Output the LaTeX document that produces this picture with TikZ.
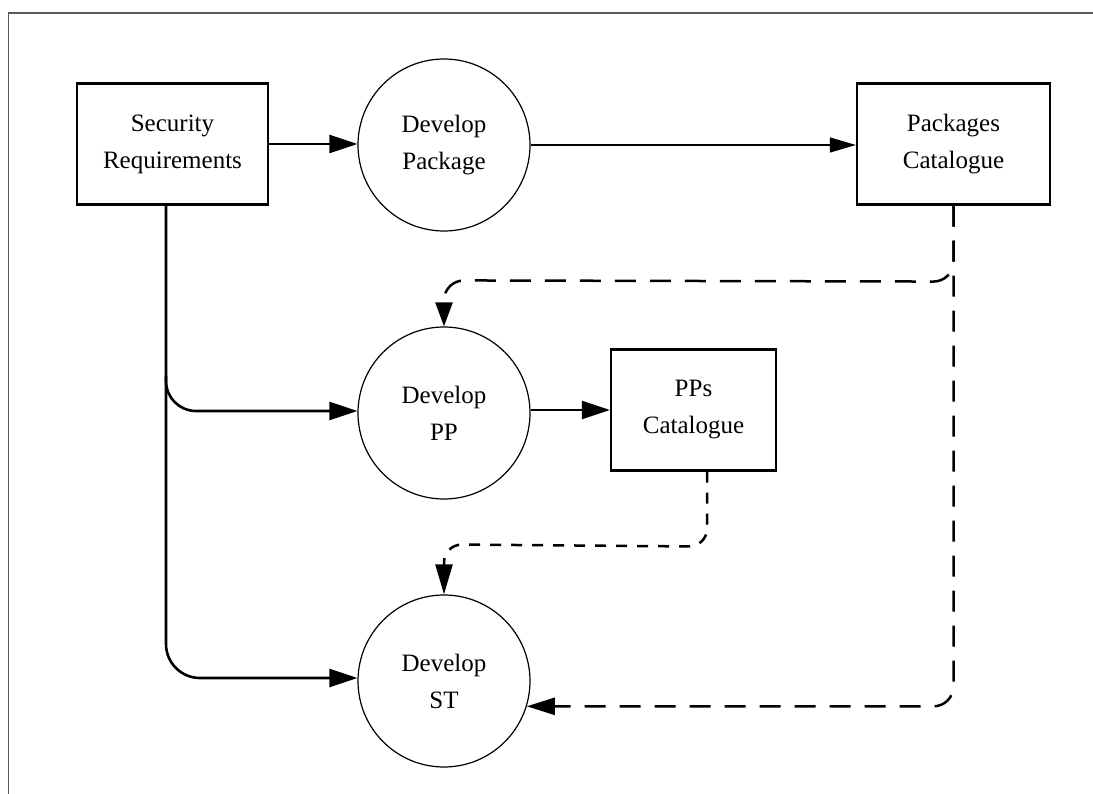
\documentclass[tikz,border=0pt]{standalone}
\usepackage{fontspec}
\setmainfont{Liberation Serif}
\usetikzlibrary{arrows.meta,calc}
\begin{document}
\begin{tikzpicture}[x=1pt,y=-1pt,
  every node/.style={font=\fontsize{25}{37}\selectfont, align=center, inner sep=0pt},
  store/.style={draw, line width=2.2pt, minimum width=#1, minimum height=121pt},
  process/.style={draw, line width=1.2pt, circle, minimum size=172pt},
  flow/.style={line width=2.6pt, -{Triangle[length=28pt,width=18pt]}},
  thinflow/.style={line width=1.2pt, -{Triangle[length=26pt,width=15pt]}},
  longdash/.style={line width=2.5pt, dash pattern=on 21pt off 14pt, rounded corners=20pt},
  shortdash/.style={line width=2.5pt, dash pattern=on 11pt off 10pt, rounded corners=18pt},
  dashtip/.style={-{Triangle[length=#1,width=17pt]}}
]
\useasboundingbox (0,0) rectangle (1093,794);
% frame edges
\draw[gray!70!black, line width=1.2pt] (1093,13) -- (8.5,13) -- (8.5,794);

% data stores
\node[store=191pt] (sec) at (172.5,144) {Security\\Requirements};
\node[store=193pt] (pkg) at (953.5,144) {Packages\\Catalogue};
\node[store=165pt] (pps) at (693.5,410) {PPs\\Catalogue};

% processes
\node[process] (dpkg) at (444,145) {Develop\\Package};
\node[process] (dpp)  at (444,413) {Develop\\PP};
\node[process] (dst)  at (444,681) {Develop\\ST};

% solid flows
\draw[flow] (sec.east) -- (dpkg.west |- sec.east);
\draw[thinflow] (dpkg.east) -- (pkg.west |- dpkg.east);
\coordinate (secdown) at ($(sec.south)+(-6.5,0)$);
\coordinate (branch) at ($(secdown)+(0,170)$);
\draw[flow, rounded corners=34pt] (secdown) |- ($(dst.west)+(0,-3)$);
\draw[flow, rounded corners=30pt] (branch) |- ($(dpp.west)+(0,-2)$);
\draw[flow] ($(dpp.east)+(0,-3)$) -- (pps.west);

% dashed flows
\coordinate (pkgdown) at (pkg.south);
\draw[longdash, dashtip=24pt] (pkgdown) -- ($(pkgdown)+(0,76)$) -- ($(dpp.north)+(0,-46)$) -- (dpp.north);
\draw[longdash, dashtip=28pt] (pkgdown) |- (dst.-17.6);
\coordinate (ppsdown) at ($(pps.south)+(13.5,0)$);
\draw[shortdash, dashtip=30pt] (ppsdown) -- ($(ppsdown)+(0,75)$) -- ($(dst.north)+(0,-50)$) -- (dst.north);
\end{tikzpicture}
\end{document}
